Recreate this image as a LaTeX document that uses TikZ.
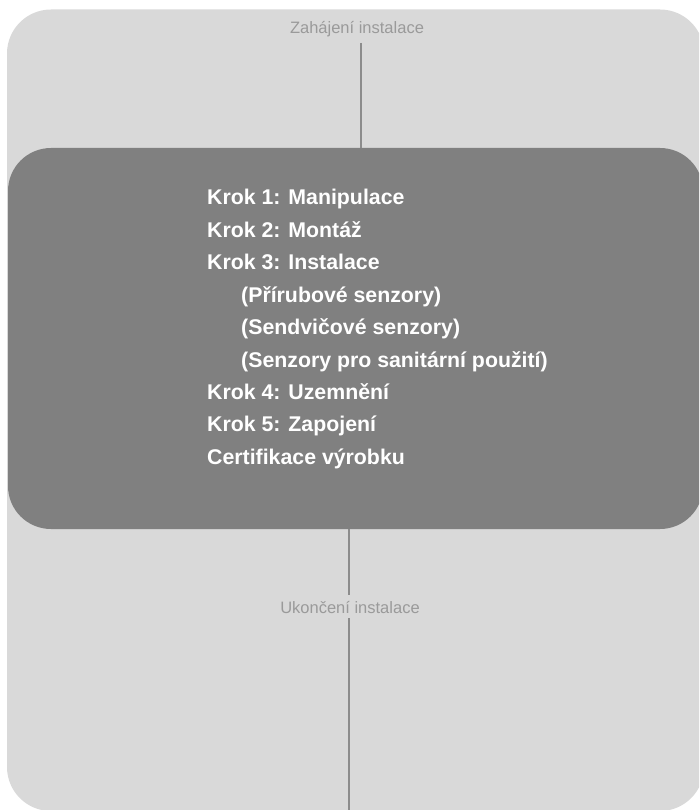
\documentclass[tikz,border=0pt]{standalone}
\usepackage{fontspec}
\setmainfont{Liberation Sans}
\definecolor{outerfill}{HTML}{D9D9D9}
\definecolor{innerfill}{HTML}{808080}
\definecolor{linegray}{HTML}{8C8C8C}
\definecolor{labelgray}{HTML}{9A9A9A}
\begin{document}
\begin{tikzpicture}[x=1pt,y=-1pt,
  outerbox/.style={fill=outerfill,rounded corners=44pt},
  innerbox/.style={fill=innerfill,rounded corners=43pt},
  conn/.style={draw=linegray,line width=2pt},
  lbl/.style={text=labelgray,font=\fontsize{16.5}{19}\selectfont,inner sep=0pt,anchor=base},
  item/.style={text=white,font=\fontsize{21.3}{25}\bfseries\selectfont,inner sep=0pt,anchor=base west}]
\useasboundingbox (0,0) rectangle (699,810);
\begin{scope}
\clip (0,0) rectangle (699,810);
\fill[outerbox] (7,9.5) rectangle (704,811);
\fill[innerbox] (8,148) rectangle (703,529);
\end{scope}
\node[lbl] (start) at (357,34) {Zahájení instalace};
\node[lbl] (end) at (350,613) {Ukončení instalace};
\coordinate (topin) at (361,148);
\coordinate (botin) at (349,529);
\coordinate (botend) at (349,810);
\draw[conn] (361,43) -- (topin);
\draw[conn] (botin) -- (349,595);
\draw[conn] (349,618) -- (botend);
\node[item] (k1) at (207,205) {Krok 1: Manipulace};
\node[item] (k2) at (207,237.4) {Krok 2: Montáž};
\node[item] (k3) at (207,269.8) {Krok 3: Instalace};
\node[item] (s1) at (241,302.2) {(Přírubové senzory)};
\node[item] (s2) at (241,334.6) {(Sendvičové senzory)};
\node[item] (s3) at (241,367) {(Senzory pro sanitární použití)};
\node[item] (k4) at (207,399.4) {Krok 4: Uzemnění};
\node[item] (k5) at (207,431.8) {Krok 5: Zapojení};
\node[item] (cert) at (207,464.2) {Certifikace výrobku};
\end{tikzpicture}
\end{document}
